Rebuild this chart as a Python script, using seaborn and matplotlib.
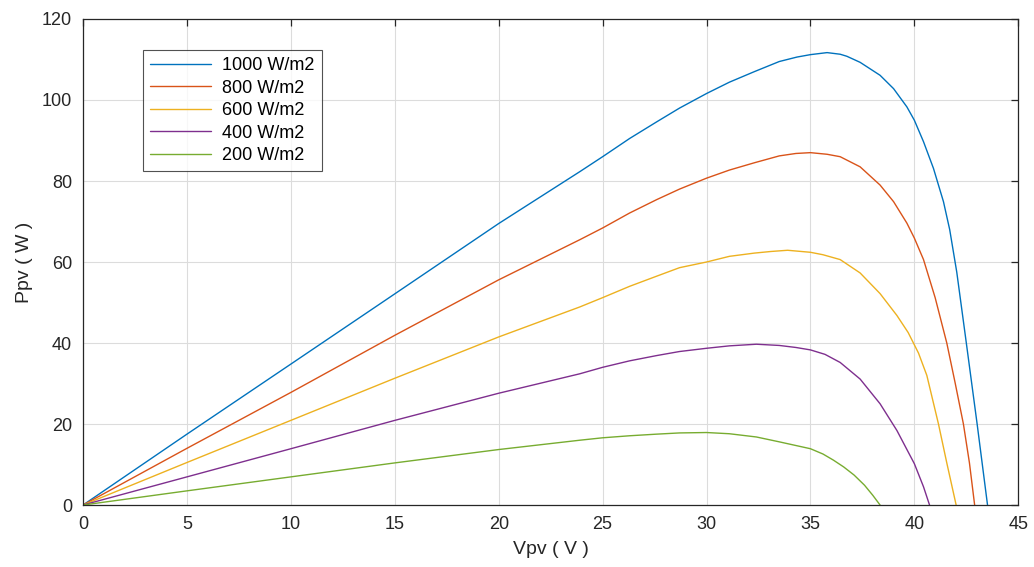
import matplotlib
matplotlib.use("Agg")
import matplotlib.pyplot as plt
import pandas as pd
import seaborn as sns

# Values (V in volts, P in watts)
v_1000 = [0, 5, 10, 14.5, 20, 23.9, 25, 26.3, 27.6, 28.7, 30, 31.1, 32.3, 33.5,
          34.35, 35, 35.8, 36.43, 36.75, 37.39, 38.35, 39.0, 39.64, 40.0, 40.44,
          40.92, 41.4, 41.7, 42.04, 42.5, 43.02, 43.52]
p_1000 = [0, 17.5, 34.8, 50.4, 69.5, 82.3, 86.0, 90.5, 94.6, 98.0, 101.6, 104.4,
          107.0, 109.5, 110.6, 111.2, 111.7, 111.3, 110.8, 109.3, 106.1, 102.8, 98.3,
          95.0, 89.7, 83.1, 74.9, 68.0, 57.5, 40, 20, 0]

v_800 = [0, 5, 10, 15, 20, 23.9, 25, 26.3, 27.6, 28.7, 30, 31.1, 32.3, 33.5, 34.3,
         35, 35.8, 36.43, 37.39, 38.35, 39.0, 39.64, 40.0, 40.44, 41.0, 41.56, 41.96,
         42.36, 42.65, 42.9]
p_800 = [0, 14.0, 27.8, 41.9, 55.6, 65.5, 68.4, 72.1, 75.4, 78.0, 80.7, 82.7, 84.5,
         86.2, 86.8, 87.0, 86.6, 86.0, 83.5, 79.0, 74.9, 69.6, 65.9, 60.6, 51.2, 40,
         30.2, 20, 10.4, 0]

v_600 = [0, 5, 10, 15, 20, 23.9, 25, 26.3, 27.6, 28.7, 30, 31.1, 32.3, 33.1, 33.9,
         35, 35.6, 36.43, 37.39, 38.35, 39.16, 39.7, 40.2, 40.6, 41.16, 41.56, 42.01]
p_600 = [0, 10.5, 20.9, 31.3, 41.5, 48.9, 51.2, 54.0, 56.5, 58.6, 60.0, 61.4, 62.2,
         62.6, 62.9, 62.4, 61.8, 60.6, 57.3, 52.2, 46.8, 42.6, 37.5, 32.0, 20, 10.4, 0]

v_400 = [0, 5, 10, 15, 20, 23.9, 25, 26.3, 27.6, 28.7, 30, 31.1, 32.4, 33.5, 34.3,
         35, 35.7, 36.43, 37.39, 38.35, 39.16, 40.0, 40.44, 40.73]
p_400 = [0, 6.95, 13.9, 20.9, 27.6, 32.4, 34.0, 35.6, 36.9, 37.9, 38.7, 39.3, 39.7,
         39.4, 38.9, 38.3, 37.2, 35.2, 31.1, 25.0, 18.4, 10.2, 4.5, 0]

v_200 = [0, 5, 10, 15, 20, 23.9, 25, 26.3, 27.6, 28.7, 30, 31.1, 32.4, 33.5, 35,
         35.6, 36.1, 36.6, 37.1, 37.6, 38.0, 38.35]
p_200 = [0, 3.5, 6.95, 10.4, 13.7, 16.0, 16.6, 17.1, 17.5, 17.8, 17.9, 17.6, 16.8,
         15.6, 13.9, 12.6, 11.1, 9.4, 7.4, 4.9, 2.4, 0]

labels = ["1000 W/m2", "800 W/m2", "600 W/m2", "400 W/m2", "200 W/m2"]
colors = ["#0072BD", "#D95319", "#EDB120", "#7E2F8E", "#77AC30"]

# Combine into a long dataframe
frames = []
for lab, v, p in zip(labels, [v_1000, v_800, v_600, v_400, v_200],
                     [p_1000, p_800, p_600, p_400, p_200]):
    frames.append(pd.DataFrame({"Vpv": v, "Ppv": p, "Irradiance": lab}))
data = pd.concat(frames, ignore_index=True)

sns.set_style("white")
plt.rcParams["font.family"] = ["Liberation Sans", "DejaVu Sans"]
text_col = "#262626"

fig = plt.figure(figsize=(10.34, 5.67), dpi=100)
ax = fig.add_axes([0.0803, 0.1093, 0.9045, 0.8572])

sns.lineplot(data=data, x="Vpv", y="Ppv", hue="Irradiance", hue_order=labels,
             palette=colors, estimator=None, sort=False, linewidth=1.0, ax=ax)

ax.set_xlim(0, 45)
ax.set_ylim(0, 120)
ax.set_xticks(range(0, 46, 5))
ax.set_yticks(range(0, 121, 20))
ax.grid(True, color="#dcdcdc", linewidth=0.8)
ax.set_axisbelow(True)
for s in ax.spines.values():
    s.set_visible(True)
    s.set_color(text_col)
    s.set_linewidth(0.9)
ax.tick_params(direction="in", length=5, width=0.9, colors=text_col,
               labelsize=13, top=True, right=True, pad=8)
ax.set_xlabel("Vpv ( V )", fontsize=14, color=text_col, labelpad=6)
ax.set_ylabel("Ppv ( W )", fontsize=14, color=text_col, labelpad=6)

leg = ax.legend(loc="upper left", bbox_to_anchor=(0.058, 0.947), fontsize=13,
                frameon=True, fancybox=False, handlelength=3.4,
                labelspacing=0.3, borderpad=0.4, handletextpad=0.6,
                borderaxespad=0.3)
leg.get_frame().set_edgecolor(text_col)
leg.get_frame().set_linewidth(0.8)
for t in leg.get_texts():
    t.set_color("#000000")

plt.savefig("out.png", dpi=100)
